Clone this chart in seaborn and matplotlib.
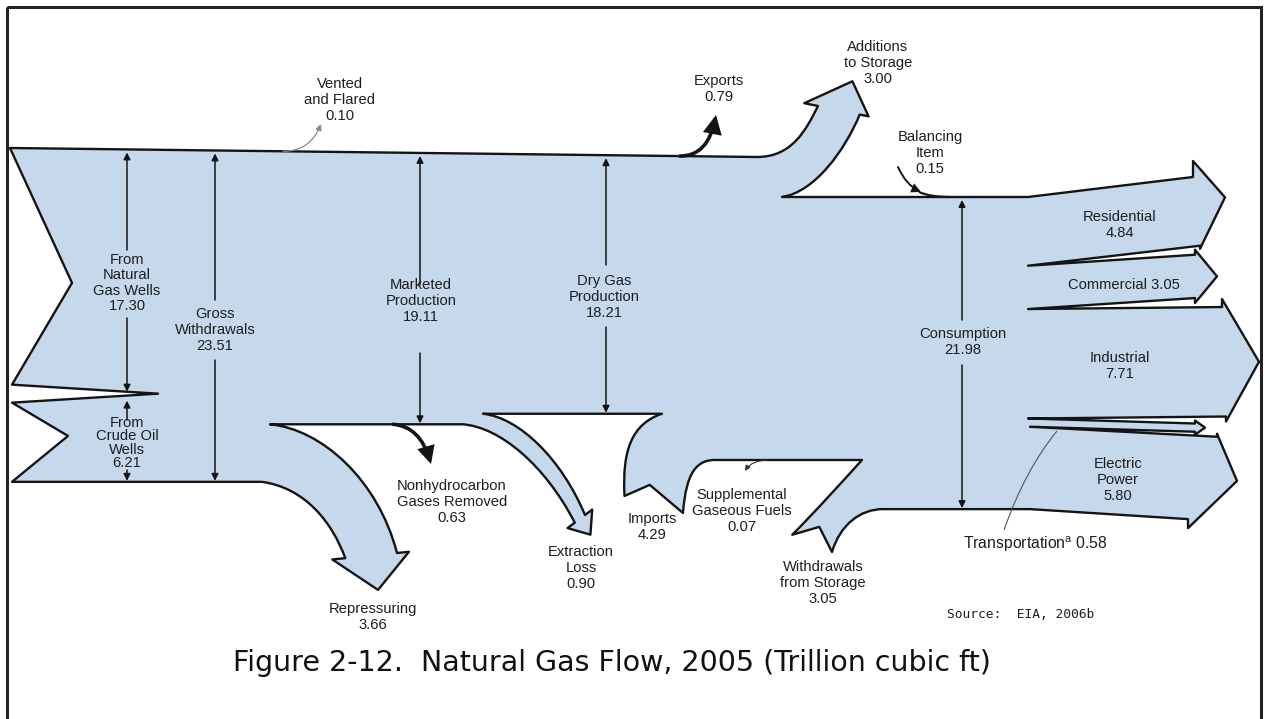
import numpy as np
import matplotlib
matplotlib.use("Agg")
import matplotlib.pyplot as plt
import seaborn as sns
from matplotlib.path import Path
from matplotlib.patches import PathPatch, FancyArrowPatch, Rectangle

# ---------------- data (trillion cubic ft, 2005) ----------------
source_names = ["From Natural Gas Wells", "From Crude Oil Wells"]
source_values = [17.30, 6.21]
stage_names = ["Gross Withdrawals", "Marketed Production", "Dry Gas Production", "Consumption"]
stage_values = [23.51, 19.11, 18.21, 21.98]
removal_names = ["Vented and Flared", "Repressuring", "Nonhydrocarbon Gases Removed",
                 "Extraction Loss", "Exports", "Additions to Storage"]
removal_values = [0.10, 3.66, 0.63, 0.90, 0.79, 3.00]
supply_names = ["Imports", "Supplemental Gaseous Fuels", "Withdrawals from Storage", "Balancing Item"]
supply_values = [4.29, 0.07, 3.05, 0.15]
end_use_names = ["Residential", "Commercial", "Industrial", "Transportation", "Electric Power"]
end_use_values = [4.84, 3.05, 7.71, 0.58, 5.80]

V = dict(zip(source_names + stage_names + removal_names + supply_names + end_use_names,
             source_values + stage_values + removal_values + supply_values + end_use_values))

# ---------------- style ----------------
sns.set_theme(style="white")
plt.rcParams['font.family'] = ['Liberation Sans', 'DejaVu Sans']
plt.rcParams['mathtext.fontset'] = 'custom'
plt.rcParams['mathtext.rm'] = 'Liberation Sans'
BLUE = "#c6d9ec"
INK = "#141414"
TXT = "#1e1e1e"

fig = plt.figure(figsize=(12.65, 7.19), dpi=100)
ax = fig.add_axes([0, 0, 1, 1])
ax.set_xlim(0, 1265)
ax.set_ylim(719, 0)
ax.axis('off')

K = 14.2            # pixels per trillion cubic ft
TOP_L, TOP_R, X_TOP_R = 148.0, 157.0, 757.0
def top_y(x):
    return TOP_L + (TOP_R - TOP_L) * (x - 10) / (X_TOP_R - 10)

def unit(v):
    v = np.asarray(v, float)
    return v / np.hypot(*v)

G_BOT = TOP_L + V["Gross Withdrawals"] * K
Y_JOIN = TOP_L + V["From Natural Gas Wells"] * K
GAP = 18
M_BOT = top_y(420) + V["Marketed Production"] * K
D_BOT = top_y(606) + V["Dry Gas Production"] * K
CONS_TOP = 197.0
CONS_BOT = CONS_TOP + V["Consumption"] * K

verts, codes = [], []
def M(p):
    verts.append(tuple(p)); codes.append(Path.MOVETO)
def L(p):
    verts.append(tuple(p)); codes.append(Path.LINETO)
def C(c1, c2, p):
    verts.extend([tuple(c1), tuple(c2), tuple(p)]); codes.extend([Path.CURVE4] * 3)

def head(p_first, n, w, e1, e2, d, lh):
    n = unit(n); d = unit(d)
    p1 = np.asarray(p_first, float)
    p2 = p1 + n * w
    c = (p1 + p2) / 2
    return [p1, p1 - n * e1, c + d * lh, p2 + n * e2, p2]

# ---- main flow outline ----
M((10, TOP_L))
L((X_TOP_R, TOP_R))
# additions to storage
up_end = (818, 106)
C((792, 157), (806, 130), up_end)
pts = head(up_end, (0.98, 0.2), V["Additions to Storage"] * K, 14, 9, (0.42, -0.9), 32)
for p in pts[1:]:
    L(p)
C((845, 150), (815, 192), (782, CONS_TOP))
L((1028, CONS_TOP))
# end-use arrows: (x_start, x_end_top, x_end_bot, dy, e_top, e_bot, tip_dx, tip_dy)
out_specs = [
    (1028, 1193, 1200, -20, 16, 3, 25, -14),
    (1028, 1195, 1195, -11, 5, 5, 22, 0),
    (1028, 1222, 1226, -2, 8, 5, 33, 0),
    (1030, 1195, 1195, 5, 3, 3, 10, 0),
    (1030, 1217, 1188, 10, 3, 9, 20, 3),
]
y = CONS_TOP
for name, (xs, xt, xb, dy, e1, e2, tdx, tdy) in zip(end_use_names, out_specs):
    h = V[name] * K
    L((xs, y))
    L((xt, y + dy))
    L((xt, y + dy - e1))
    L((max(xt, xb) + tdx, y + dy + h / 2 + tdy))
    L((xb, y + h + dy + e2))
    L((xb, y + h + dy))
    L((xs, y + h))
    y += h
L((883, CONS_BOT))
# withdrawals from storage (tail notch)
wd_w = V["Withdrawals from Storage"] * K
tail_r = np.array([832.0, 552.0])
C((860, CONS_BOT), (840, 525), tail_r)
tail_l = tail_r + unit((-0.92, -0.40)) * wd_w
L((tail_r + tail_l) / 2 + unit((0.4, -0.92)) * 18)
L(tail_l)
SUP_Y = 460
C((815, 512), (842, 482), (862, SUP_Y))
L((717, SUP_Y))
# imports (tail notch)
imp_r = np.array([683.0, 513.0])
C((697, SUP_Y - 1), (686, 472), imp_r)
imp_l = imp_r + unit((-0.96, -0.28)) * V["Imports"] * K
L((imp_r + imp_l) / 2 + unit((-0.2, -0.98)) * 20)
L(imp_l)
C((622, 450), (632, D_BOT + 10), (662, D_BOT))
L((483, D_BOT))
# extraction loss
ex_first = (585, 515)
C((520, D_BOT + 4), (562, 460), ex_first)
pts = head(ex_first, (-0.8, 0.6), V["Extraction Loss"] * K, 9, 9, (0.55, 0.83), 19)
for p in pts[1:]:
    L(p)
C((545, 465), (500, M_BOT + 3), (463, M_BOT))
L((270, M_BOT))
# repressuring
rp_first = (397, 553)
C((322, M_BOT + 5), (378, 480), rp_first)
pts = head(rp_first, (-1, 0.1), V["Repressuring"] * K, 12, 13, (0.2, 1), 35)
for p in pts[1:]:
    L(p)
C((332, 522), (305, G_BOT + 6), (262, G_BOT))
L((12, G_BOT))
# crude oil wells tail
crude_top = Y_JOIN + GAP / 2
L((68, crude_top + (G_BOT - crude_top) * 0.42))
L((12, crude_top))
L((158, Y_JOIN))
gas_bot = Y_JOIN - GAP / 2
L((12, gas_bot))
L((72, TOP_L + (gas_bot - TOP_L) * 0.57))
verts.append((10, TOP_L)); codes.append(Path.CLOSEPOLY)

ax.add_patch(PathPatch(Path(verts, codes), facecolor=BLUE, edgecolor=INK,
                       lw=1.7, joinstyle='round', zorder=2))

# ---- small flows drawn as curved arrows ----
def curved_arrow(p0, c, p1, lw, ms, color=INK, style='-|>'):
    pa = FancyArrowPatch(path=Path([p0, c, p1], [Path.MOVETO, Path.CURVE3, Path.CURVE3]),
                         arrowstyle=style, mutation_scale=ms, lw=lw, color=color,
                         joinstyle='miter', zorder=4)
    ax.add_patch(pa)

curved_arrow((680, top_y(680)), (708, top_y(700)), (716, 115), 2.6, 24)            # exports
curved_arrow((393, M_BOT), (420, M_BOT + 2), (431, 464), 2.6, 22)                   # nonhydrocarbon
curved_arrow((283, top_y(283)), (310, top_y(310)), (321, 124), 0.9, 9, color="#8a8a8a")  # vented
curved_arrow((898, 167), (906, 185), (921, 192), 1.4, 12)                           # balancing
ax.add_patch(PathPatch(Path([(919, 192), (930, CONS_TOP), (950, CONS_TOP)],
                            [Path.MOVETO, Path.CURVE3, Path.CURVE3]),
                       fill=False, lw=1.6, edgecolor=INK, zorder=4))
curved_arrow((768, SUP_Y), (752, SUP_Y), (745, 471), 0.8, 8, color="#333333")      # supplemental
# transportation pointer
ax.add_patch(PathPatch(Path([(1004, 530), (1025, 470), (1057, 431)],
                            [Path.MOVETO, Path.CURVE3, Path.CURVE3]),
                       fill=False, lw=0.8, edgecolor="#555555", zorder=4))

# ---- measurement arrows (stage widths) ----
def varrow(x, y0, y1):
    ax.annotate("", xy=(x, y1), xytext=(x, y0),
                arrowprops=dict(arrowstyle='-|>', color=INK, lw=1.1,
                                mutation_scale=10, shrinkA=0, shrinkB=0), zorder=5)

varrow(127, 250, top_y(127) + 3); varrow(127, 318, Y_JOIN - 2)
varrow(127, 420, Y_JOIN + 7); varrow(127, 470, G_BOT - 1)
varrow(215, 300, top_y(215) + 3); varrow(215, 360, G_BOT - 1)
varrow(420, 285, top_y(420) + 3); varrow(420, 353, M_BOT - 1)
varrow(606, 265, top_y(606) + 3); varrow(606, 327, D_BOT - 1)
varrow(962, 320, CONS_TOP + 3); varrow(962, 365, CONS_BOT - 1)

# ---- labels ----
def lab(x, y, lines, value, fs=10.6, ls=1.15, **kw):
    ax.text(x, y, "\n".join(lines + [f"{value:.2f}"]), ha='center', va='center',
            fontsize=fs, color=TXT, linespacing=ls, zorder=6, **kw)

lab(127, 283, ["From", "Natural", "Gas Wells"], V["From Natural Gas Wells"])
lab(127, 443, ["From", "Crude Oil", "Wells"], V["From Crude Oil Wells"], ls=0.95)
lab(215, 330, ["Gross", "Withdrawals"], V["Gross Withdrawals"])
lab(421, 301, ["Marketed", "Production"], V["Marketed Production"])
lab(604, 297, ["Dry Gas", "Production"], V["Dry Gas Production"])
lab(963, 342, ["Consumption"], V["Consumption"])
lab(340, 100, ["Vented", "and Flared"], V["Vented and Flared"])
lab(719, 89, ["Exports"], V["Exports"])
lab(878, 63, ["Additions", "to Storage"], V["Additions to Storage"])
lab(930, 153, ["Balancing", "Item"], V["Balancing Item"])
lab(1120, 225, ["Residential"], V["Residential"])
ax.text(1124, 285, f"Commercial {V['Commercial']:.2f}", ha='center', va='center',
        fontsize=10.6, color=TXT, zorder=6)
lab(1120, 366, ["Industrial"], V["Industrial"])
lab(1118, 480, ["Electric", "Power"], V["Electric Power"])
ax.text(1035, 544, "Transportation$^{\\mathrm{a}}$ " + f"{V['Transportation']:.2f}",
        ha='center', va='center', fontsize=11.3, color=TXT, zorder=6)
lab(823, 583, ["Withdrawals", "from Storage"], V["Withdrawals from Storage"])
lab(742, 511, ["Supplemental", "Gaseous Fuels"], V["Supplemental Gaseous Fuels"])
lab(652, 527, ["Imports"], V["Imports"])
lab(581, 568, ["Extraction", "Loss"], V["Extraction Loss"])
lab(452, 502, ["Nonhydrocarbon", "Gases Removed"], V["Nonhydrocarbon Gases Removed"])
lab(373, 617, ["Repressuring"], V["Repressuring"])

ax.text(1021, 614, "Source:  EIA, 2006b", ha='center', va='center',
        fontsize=9.3, family='DejaVu Sans Mono', color=TXT)
ax.text(612, 663, "Figure 2-12.  Natural Gas Flow, 2005 (Trillion cubic ft)",
        ha='center', va='center', fontsize=20.5, family='DejaVu Sans', color="#111111")

# ---- frame ----
ax.add_patch(Rectangle((6.5, 6.5), 1254.5, 760, fill=False, lw=2.2,
                       edgecolor="#222222", clip_on=False, zorder=7))

fig.savefig("out.png", dpi=100)
